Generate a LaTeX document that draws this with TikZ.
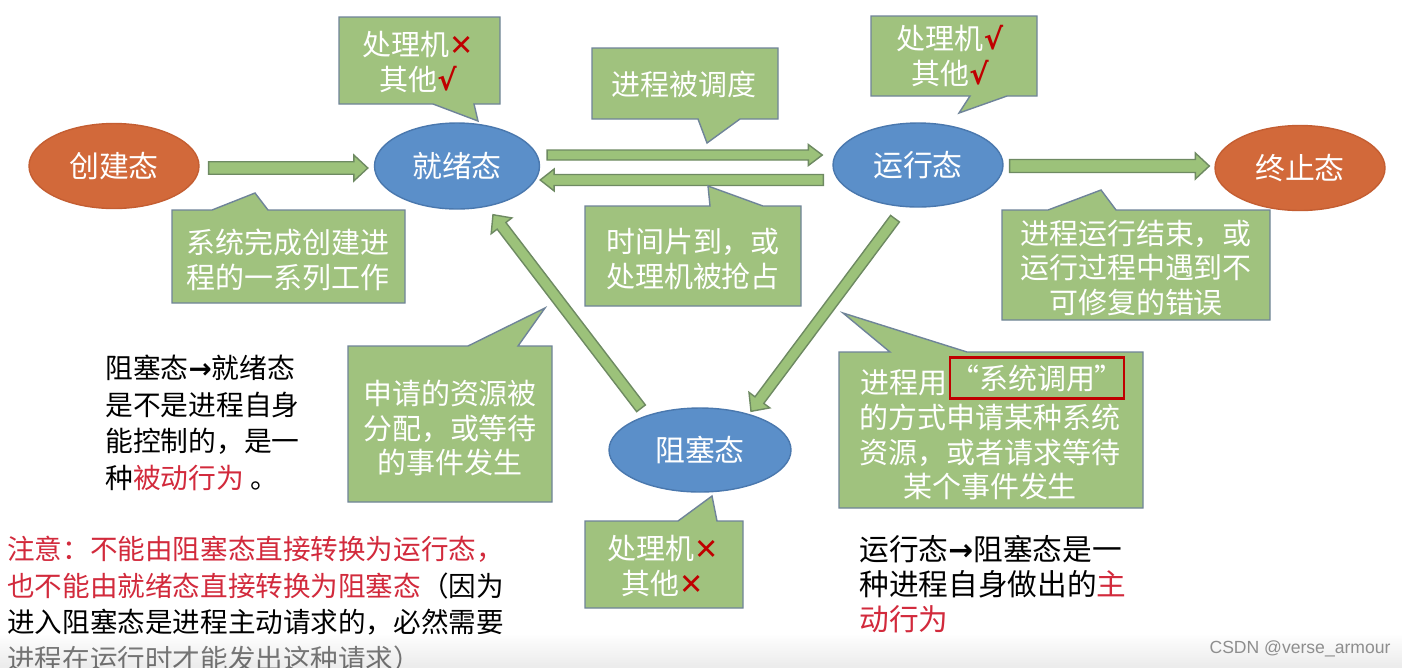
\documentclass[tikz,border=0pt]{standalone}
\usepackage{fontspec}
\setmainfont{Noto Sans CJK SC}
\newfontfamily\dejavu{DejaVu Sans}
\newfontfamily\wmfont{Liberation Sans}
\usetikzlibrary{calc,shapes.geometric}
\definecolor{cgreen}{HTML}{A0C27E}
\definecolor{cborder}{HTML}{6F8499}
\definecolor{agreen}{HTML}{9CC27A}
\definecolor{aborder}{HTML}{6E8A62}
\definecolor{sblue}{HTML}{5B8FC9}
\definecolor{sblueb}{HTML}{4A78AE}
\definecolor{sorange}{HTML}{D2693A}
\definecolor{sorangeb}{HTML}{C45E32}
\definecolor{tred}{HTML}{D22A3C}
\definecolor{mred}{HTML}{C00000}
\definecolor{wmgray}{HTML}{8E8E8E}
\newcommand\fatarrow[4]{%
  \coordinate (fa-h) at ($(#2)!0.28cm!(#1)$);
  \filldraw[fatarrowstyle] ($(#1)!#3!90:(#2)$) -- ($(fa-h)!#3!90:(#2)$) -- ($(fa-h)!#4!90:(#2)$) -- (#2) -- ($(fa-h)!#4!-90:(#2)$) -- ($(fa-h)!#3!-90:(#2)$) -- ($(#1)!#3!-90:(#2)$) -- cycle;
}
\newcommand\xmark{{\color{mred}\dejavu ✕}}
\newcommand\cmark{{\color{mred}\dejavu\bfseries √}}
\newcommand\barrow{{\dejavu\bfseries →}}
\begin{document}
\begin{tikzpicture}[x=0.02cm,y=-0.02cm,
  state/.style={ellipse, minimum width=3.4cm, minimum height=1.7cm, inner sep=0pt, text=white, font=\fontsize{17}{20}\selectfont, line width=0.8pt},
  bluestate/.style={state, fill=sblue, draw=sblueb},
  orangestate/.style={state, fill=sorange, draw=sorangeb},
  callout/.style={fill=cgreen, draw=cborder, line width=0.8pt, line join=miter},
  ctext/.style={text=white, align=center, inner sep=0pt, font=\fontsize{16.5}{19.8}\selectfont},
  fatarrowstyle/.style={fill=agreen, draw=aborder, line width=0.8pt, line join=miter},
  btext/.style={align=left, inner sep=0pt, anchor=west, text=black},
]
\useasboundingbox (0,0) rectangle (1402,667);
\fill[white] (0,0) rectangle (1402,667);

% states
\node[orangestate] (create) at (114,166) {创建态};
\node[bluestate, minimum width=3.3cm, minimum height=1.72cm] (ready) at (457,166) {就绪态};
\node[bluestate, minimum height=1.68cm] (run) at (918,165) {运行态};
\node[orangestate] (exit) at (1300,168) {终止态};
\node[bluestate, minimum width=3.64cm, minimum height=1.68cm] (block) at (700,450) {阻塞态};

% connectors
\coordinate (a1s) at ($(create.east)+(9,2)$);
\coordinate (a1e) at ($(ready.west)+(-6,2)$);
\fatarrow{a1s}{a1e}{0.125cm}{0.26cm}
\coordinate (a2s) at ($(ready.east)+(7,-11)$);
\coordinate (a2e) at ($(run.west)+(-10,-10)$);
\fatarrow{a2s}{a2e}{0.1cm}{0.21cm}
\coordinate (a3s) at ($(run.west)+(-9,15)$);
\coordinate (a3e) at ($(ready.east)+(0,14)$);
\fatarrow{a3s}{a3e}{0.11cm}{0.22cm}
\coordinate (a4s) at ($(run.east)+(6,1)$);
\coordinate (a4e) at ($(exit.west)+(-5,-2)$);
\fatarrow{a4s}{a4e}{0.13cm}{0.26cm}
\coordinate (a5s) at ($(run.south)+(-23,11)$);
\coordinate (a5e) at ($(block.north)+(51,4)$);
\fatarrow{a5s}{a5e}{0.11cm}{0.26cm}
\coordinate (a6s) at ($(block.north)+(-59,1)$);
\coordinate (a6e) at ($(ready.south)+(36,5)$);
\fatarrow{a6s}{a6e}{0.11cm}{0.26cm}

% callouts
\filldraw[callout] (339,17) -- (500,17) -- (500,104) -- (474,104) -- (478,121) -- (433,104) -- (339,104) -- cycle;
\node[ctext] (c1) at (418,62) {处理机\xmark\\其他\cmark};

\filldraw[callout] (592,48) -- (778,48) -- (778,119) -- (740,119) -- (707,143) -- (698,119) -- (592,119) -- cycle;
\node[ctext] (c2) at (684,84) {进程被调度};

\filldraw[callout] (585,206) -- (710,206) -- (708,186) -- (763,206) -- (801,206) -- (801,306) -- (585,306) -- cycle;
\node[ctext] (c3) at (693,259) {时间片到，或\\处理机被抢占};

\filldraw[callout] (172,210) -- (212,210) -- (255,193) -- (268,210) -- (405,210) -- (405,303) -- (172,303) -- cycle;
\node[ctext] (c4) at (288,260) {系统完成创建进\\程的一系列工作};

\filldraw[callout] (871,16) -- (1037,16) -- (1037,96) -- (1007,96) -- (959,113) -- (970,96) -- (871,96) -- cycle;
\node[ctext] (c5) at (950,56) {处理机\cmark\\其他\cmark};

\filldraw[callout] (1002,210) -- (1048,210) -- (1101,190) -- (1116,210) -- (1270,210) -- (1270,320) -- (1002,320) -- cycle;
\node[ctext] (c6) at (1136,268) {进程运行结束，或\\运行过程中遇到不\\可修复的错误};

\filldraw[callout] (348,346) -- (468,346) -- (545,308) -- (518,346) -- (552,346) -- (552,502) -- (348,502) -- cycle;
\node[ctext] (c7) at (450,428) {申请的资源被\\分配，或等待\\的事件发生};

\filldraw[callout] (839,352) -- (890,352) -- (843,313) -- (967,352) -- (1143,352) -- (1143,508) -- (839,508) -- cycle;
\node[ctext, anchor=east] (c8a) at (948,383) {进程用};
\node[ctext, draw=mred, line width=1.6pt, minimum width=3.2cm, minimum height=0.82cm] (c8b) at (1037,378) {“系统调用”};
\node[ctext] (c8c) at (990,452) {的方式申请某种系统\\资源，或者请求等待\\某个事件发生};

\filldraw[callout] (585,521) -- (678,521) -- (712,496) -- (717,521) -- (743,521) -- (743,608) -- (585,608) -- cycle;
\node[ctext] (c9) at (663,566) {处理机\xmark\\其他\xmark};

% free text
\node[btext, font=\fontsize{15.8}{20.8}\selectfont] (t1) at (105,423) {阻塞态\barrow 就绪态\\是不是进程自身\\能控制的，是一\\种{\color{tred}被动行为} 。};
\node[btext, font=\fontsize{16.9}{19.8}\selectfont] (t2) at (859,584) {运行态\barrow 阻塞态是一\\种进程自身做出的{\color{tred}主}\\{\color{tred}动行为}};
\node[btext, font=\fontsize{15.7}{20.8}\selectfont] (t3) at (7,604) {{\color{tred}注意：不能由阻塞态直接转换为运行态，}\\{\color{tred}也不能由就绪态直接转换为阻塞态}（因为\\进入阻塞态是进程主动请求的，必然需要\\进程在运行时才能发出这种请求）};

% bottom bar and watermark
\shade[top color=white, bottom color=black!15, opacity=0.5] (0,634) rectangle (1402,667);
\node[text=wmgray, font=\wmfont\fontsize{10}{12}\selectfont, inner sep=0pt] (wm) at (1300,649) {CSDN @verse\_armour};
\end{tikzpicture}
\end{document}
